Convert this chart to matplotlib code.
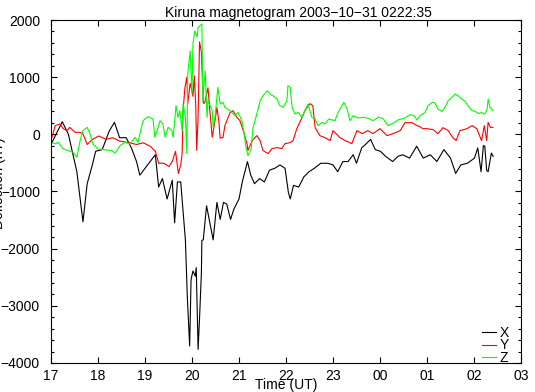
import matplotlib
matplotlib.use("Agg")
import matplotlib.pyplot as plt
from matplotlib.ticker import MultipleLocator

plt.rcParams['font.family'] = ['Liberation Sans', 'DejaVu Sans']

# time in hours from 17 UT (values > 24 are after midnight)
t_x = [17.00, 17.24, 17.37, 17.55, 17.68, 17.77, 17.88, 17.95, 18.09, 18.24, 18.35, 18.46,
       18.60, 18.71, 18.82, 18.89, 19.00, 19.11, 19.22, 19.29, 19.37, 19.47, 19.58, 19.63,
       19.69, 19.76, 19.86, 19.90, 19.95, 19.98, 20.02, 20.07, 20.09, 20.13, 20.16, 20.20,
       20.21, 20.24, 20.31, 20.38, 20.45, 20.53, 20.60, 20.67, 20.74, 20.82, 20.89, 21.00,
       21.07, 21.18, 21.25, 21.33, 21.44, 21.54, 21.65, 21.76, 21.87, 21.98, 22.05, 22.09,
       22.16, 22.27, 22.38, 22.49, 22.60, 22.74, 22.89, 23.00, 23.10, 23.21, 23.32, 23.43,
       23.50, 23.61, 23.69, 23.80, 23.90, 24.01, 24.12, 24.27, 24.38, 24.48, 24.63, 24.78,
       24.92, 25.07, 25.21, 25.36, 25.50, 25.61, 25.72, 25.86, 26.01, 26.08, 26.15, 26.20,
       26.23, 26.27, 26.30, 26.37, 26.41]
x_nt = [-178, 221, 1, -654, -1530, -863, -535, -297, -267, 60, 209, -59,
        -59, -237, -476, -714, -595, -476, -357, -922, -774, -1131, -803, -1548,
        -833, -833, -1855, -2838, -3701, -2540, -2391, -2480, -2331, -3761, -3225, -2421,
        -1855, -1846, -1250, -1548, -1846, -1190, -1488, -1190, -1220, -1488, -1310, -1131,
        -833, -476, -714, -863, -774, -833, -625, -595, -535, -595, -1012, -1131,
        -893, -922, -744, -654, -595, -506, -506, -535, -654, -476, -476, -357,
        -506, -237, -178, -89, -267, -297, -386, -476, -386, -357, -416, -208,
        -416, -357, -476, -267, -416, -684, -535, -506, -416, -237, -654, -197,
        -208, -633, -654, -327, -386]

t_y = [17.00, 17.02, 17.09, 17.19, 17.26, 17.34, 17.40, 17.51, 17.62, 17.68, 17.77, 17.88,
       18.02, 18.17, 18.31, 18.46, 18.67, 18.82, 18.96, 19.11, 19.22, 19.29, 19.40, 19.51,
       19.58, 19.65, 19.71, 19.76, 19.79, 19.81, 19.85, 19.89, 19.91, 19.96, 20.00, 20.02,
       20.05, 20.08, 20.10, 20.13, 20.16, 20.20, 20.24, 20.27, 20.34, 20.38, 20.43, 20.49,
       20.53, 20.57, 20.60, 20.66, 20.70, 20.81, 20.87, 20.96, 21.02, 21.09, 21.17, 21.19,
       21.28, 21.38, 21.45, 21.51, 21.62, 21.70, 21.81, 21.91, 21.98, 22.09, 22.15, 22.23,
       22.34, 22.40, 22.51, 22.57, 22.62, 22.72, 22.83, 22.94, 23.00, 23.15, 23.26, 23.40,
       23.51, 23.62, 23.74, 23.85, 24.00, 24.15, 24.28, 24.43, 24.53, 24.68, 24.79, 24.85,
       24.91, 25.00, 25.13, 25.23, 25.34, 25.45, 25.55, 25.62, 25.70, 25.85, 25.96, 26.06,
       26.16, 26.22, 26.27, 26.30, 26.35, 26.40]
y_nt = [-29, -52, 152, 181, 99, 65, 122, 35, 35, 7, -178, -89,
        -29, -89, -59, -118, -148, -178, -148, -208, -297, -506, -506, -565,
        -476, -297, -684, -535, -337, 410, 820, 1000, 540, 890, 760, 665,
        1023, 500, -280, 300, 1618, 1440, 546, 546, 814, 414, -52, 239,
        471, 239, -70, -52, 152, 379, 414, 291, 239, 65, -162, -284,
        -110, -23, -110, -284, -337, -250, -232, -250, -162, -145, -110, 99,
        291, 414, 536, 501, 117, -23, -58, -110, 65, -58, -110, -162,
        65, 12, 65, 12, 99, -23, 12, 65, 204, 204, 152, 134,
        99, 99, 82, 12, 117, 65, -58, -110, 65, 99, 152, 99,
        -110, 150, -110, 209, 120, 122]

t_z = [17.01, 17.09, 17.15, 17.26, 17.36, 17.47, 17.55, 17.62, 17.68, 17.77, 17.83, 17.89,
       18.00, 18.15, 18.30, 18.36, 18.47, 18.57, 18.68, 18.79, 18.85, 18.94, 18.96, 19.06,
       19.17, 19.21, 19.28, 19.32, 19.38, 19.43, 19.49, 19.57, 19.60, 19.66, 19.70, 19.74,
       19.79, 19.81, 19.86, 19.89, 19.91, 19.96, 20.00, 20.02, 20.06, 20.11, 20.13, 20.17,
       20.21, 20.23, 20.28, 20.32, 20.34, 20.43, 20.45, 20.49, 20.55, 20.60, 20.66, 20.70,
       20.81, 20.91, 20.98, 21.06, 21.11, 21.15, 21.19, 21.26, 21.28, 21.30, 21.38, 21.45,
       21.51, 21.60, 21.66, 21.72, 21.81, 21.87, 21.94, 22.02, 22.04, 22.09, 22.13, 22.19,
       22.26, 22.34, 22.40, 22.47, 22.55, 22.62, 22.68, 22.77, 22.83, 22.91, 23.04, 23.11,
       23.19, 23.23, 23.30, 23.36, 23.43, 23.53, 23.64, 23.75, 23.85, 23.96, 24.06, 24.17,
       24.28, 24.38, 24.53, 24.64, 24.72, 24.79, 24.85, 24.96, 25.02, 25.11, 25.17, 25.23,
       25.32, 25.38, 25.45, 25.53, 25.60, 25.66, 25.74, 25.81, 25.87, 25.96, 26.02, 26.09,
       26.16, 26.23, 26.28, 26.30, 26.34, 26.40]
z_nt = [-140, -168, -140, -255, -285, -314, -401, -110, 65, 122, 7, -168,
        -255, -272, -285, -331, -197, -140, -168, -52, -140, 181, 239, 309,
        268, -52, 122, 239, 181, -52, 122, 65, -52, 501, 297, 414,
        65, 530, 300, -337, 1060, 1460, 710, 1580, 1810, 1700, 1870, 1900,
        1930, 590, 1110, 297, 590, 414, 120, 297, 820, 530, 560, 471,
        414, 326, 384, 239, 7, -227, -372, -255, -52, 122, 356, 588,
        675, 763, 705, 675, 618, 501, 471, 588, 850, 820, 471, 356,
        384, 297, 414, 530, 297, 268, 152, 209, 181, 268, 239, 384,
        501, 560, 443, 239, 326, 286, 297, 280, 239, 297, 280, 152,
        192, 251, 286, 344, 330, 251, 326, 384, 501, 560, 550, 443,
        401, 471, 588, 646, 705, 675, 618, 576, 501, 414, 401, 366,
        380, 356, 443, 618, 471, 414]

hour_ticks = list(range(17, 28))
hour_labels = ['17', '18', '19', '20', '21', '22', '23', '00', '01', '02', '03']

fig = plt.figure(figsize=(5.35, 3.92), dpi=100)
ax = fig.add_axes([51 / 535, 1 - 363 / 392, 470 / 535, 343 / 392])

ax.plot(t_x, x_nt, color='black', lw=0.8, label='X')
ax.plot(t_y, y_nt, color='#ff0000', lw=0.8, label='Y')
ax.plot(t_z, z_nt, color='#00ff00', lw=0.8, label='Z')

ax.set_xlim(17, 27)
ax.set_ylim(-4000, 2000)
ax.set_xticks(hour_ticks)
ax.set_xticklabels(hour_labels)
ax.yaxis.set_major_locator(MultipleLocator(1000))
ax.yaxis.set_minor_locator(MultipleLocator(200))
ax.tick_params(which='both', direction='in', top=True, right=True, labelsize=10)
ax.tick_params(which='major', length=4, width=0.8)
ax.tick_params(which='minor', length=2.5, width=0.8)
ax.tick_params(axis='y', pad=8)
ax.tick_params(axis='x', pad=4)
for s in ax.spines.values():
    s.set_linewidth(0.8)

ax.set_title('Kiruna magnetogram 2003\u221210\u221231 0222:35', fontsize=10, x=0.526, pad=0)
ax.set_xlabel('Time (UT)', fontsize=10, labelpad=-3)
fig.text(6.5 / 535, 1 - 183 / 392, 'Deflection (nT)', rotation=90, fontsize=10,
         ha='right', va='center')

leg = ax.legend(loc='lower right', bbox_to_anchor=(0.975, -0.005), frameon=False,
                fontsize=10, handlelength=1.0, handletextpad=0.3, labelspacing=-0.12,
                borderpad=0, borderaxespad=0)
leg.set_zorder(2)

fig.savefig('out.png', dpi=100)
